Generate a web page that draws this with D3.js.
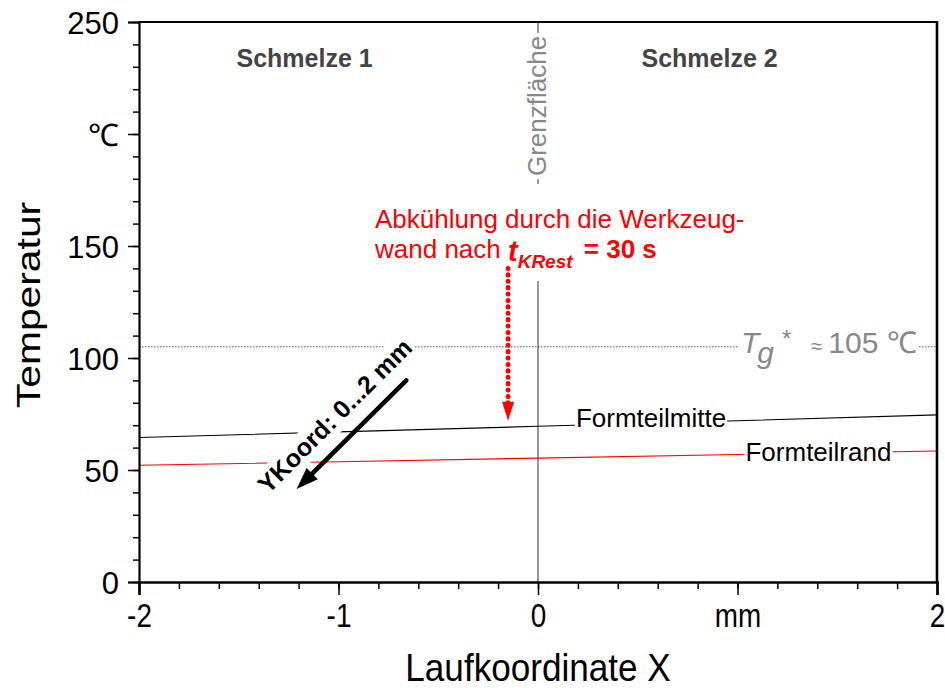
<!DOCTYPE html>
<html>
<head>
<meta charset="utf-8">
<script src="https://cdn.jsdelivr.net/npm/d3@7"></script>
<style>
  body { margin: 0; background: #fff; }
  svg { display: block; }
  text { font-family: "Liberation Sans", Arial, Helvetica, sans-serif; }
</style>
</head>
<body>
<svg id="chart" width="945" height="688"></svg>
<script>
// Axis ranges and tick labels
const xDomain = [-2, 2];
const yDomain = [0, 250];
const xTickValues = [-2, -1, 0, 1, 2];
const xTickLabels = ["-2", "-1", "0", "mm", "2"];
const yTickValues = [0, 50, 100, 150, 200, 250];
const yTickLabels = ["0", "50", "100", "150", "℃", "250"];

// Temperature profiles along the flow coordinate X (mm → °C)
const positions = [-2, -1, 0, 1, 2];
const formteilmitte = [64.5, 67.0, 69.5, 72.0, 74.6];
const formteilrand = [52.1, 53.7, 55.3, 56.9, 58.5];

// Reference temperature and interface position
const tgValue = 105;
const interfaceX = 0;
const interfaceTop = 250;

// Annotation arrows (data units)
const coolingArrow = { x: -0.15, from: 140, to: 72 };
const yCoordArrow = { x1: -0.66, y1: 90, x2: -1.21, y2: 41.5 };

const svg = d3.select("#chart");
const margin = { left: 139, right: 8, top: 22, bottom: 106 };
const W = 945, H = 688;

const x = d3.scaleLinear().domain(xDomain).range([margin.left, W - margin.right]);
const y = d3.scaleLinear().domain(yDomain).range([H - margin.bottom, margin.top]);

const gPlot = svg.append("g");

// Tg dotted reference line
gPlot.append("line")
  .attr("x1", x(xDomain[0])).attr("x2", x(xDomain[1]))
  .attr("y1", y(tgValue)).attr("y2", y(tgValue))
  .attr("stroke", "#555").attr("stroke-width", 1)
  .attr("stroke-dasharray", "1.5,1.5");

// Interface line
gPlot.append("line")
  .attr("x1", x(interfaceX)).attr("x2", x(interfaceX))
  .attr("y1", y(interfaceTop)).attr("y2", y(0))
  .attr("stroke", "#333").attr("stroke-width", 1);

// Temperature curves
const line = d3.line().x((d, i) => x(positions[i])).y(d => y(d));
gPlot.append("path").datum(formteilmitte)
  .attr("d", line).attr("fill", "none")
  .attr("stroke", "#000").attr("stroke-width", 1.1);
gPlot.append("path").datum(formteilrand)
  .attr("d", line).attr("fill", "none")
  .attr("stroke", "#ff0000").attr("stroke-width", 1.1);

// Helper: white box behind a text element
function backdrop(parent, textSel, pad) {
  const b = textSel.node().getBBox();
  const p = Object.assign({ l: 2, r: 2, t: 2, b: 2 }, pad || {});
  parent.insert("rect", () => textSel.node())
    .attr("x", b.x - p.l).attr("y", b.y - p.t)
    .attr("width", b.width + p.l + p.r).attr("height", b.height + p.t + p.b)
    .attr("fill", "#fff");
}

// Region labels
gPlot.append("text").attr("x", x(-1.17)).attr("y", 67)
  .attr("text-anchor", "middle").attr("font-size", 25).attr("font-weight", "bold")
  .attr("fill", "#444").text("Schmelze 1");
gPlot.append("text").attr("x", x(0.86)).attr("y", 67)
  .attr("text-anchor", "middle").attr("font-size", 25).attr("font-weight", "bold")
  .attr("fill", "#444").text("Schmelze 2");

// Interface label (vertical)
const gIf = gPlot.append("g")
  .attr("transform", `translate(${x(interfaceX) + 8},106) rotate(-90)`);
const tIf = gIf.append("text").attr("text-anchor", "middle")
  .attr("font-size", 26).attr("fill", "#888").text("Grenzfläche");
backdrop(gIf, tIf, { l: 3, r: 3, t: 0, b: 0 });

// Red annotation block
const gAnn = gPlot.append("g");
const tAnn = gAnn.append("text").attr("fill", "#ff0000").attr("font-size", 26);
tAnn.append("tspan").attr("x", 375).attr("y", 228).text("Abkühlung durch die Werkzeug-");
const l2 = tAnn.append("tspan").attr("x", 375).attr("y", 258);
l2.append("tspan").text("wand nach ");
tAnn.append("tspan").attr("font-weight", "bold").attr("font-style", "italic")
  .attr("font-size", 29).attr("dy", 3).text("t");
tAnn.append("tspan").attr("font-weight", "bold").attr("font-style", "italic")
  .attr("font-size", 19).attr("dy", 7).text("KRest");
tAnn.append("tspan").attr("font-weight", "bold")
  .attr("dy", -10).attr("dx", 4).text(" = 30 s");
backdrop(gAnn, tAnn, { l: 2, r: 2, t: 20, b: 9 });

// Cooling arrow (red dotted)
const arrowHeadLen = 19;
gPlot.append("line")
  .attr("x1", x(coolingArrow.x)).attr("x2", x(coolingArrow.x))
  .attr("y1", y(coolingArrow.from)).attr("y2", y(coolingArrow.to) - arrowHeadLen + 2)
  .attr("stroke", "#ff0000").attr("stroke-width", 5)
  .attr("stroke-linecap", "round").attr("stroke-dasharray", "0.1,6.3");
{
  const ax = x(coolingArrow.x), ay = y(coolingArrow.to);
  gPlot.append("path")
    .attr("d", `M${ax},${ay} L${ax - 6},${ay - arrowHeadLen} L${ax + 6},${ay - arrowHeadLen} Z`)
    .attr("fill", "#ff0000");
}

// Tg label
const tTg = gPlot.append("text").attr("x", 741).attr("y", y(tgValue) + 6)
  .attr("fill", "#888").attr("font-size", 30);
tTg.append("tspan").attr("font-style", "italic").text("T");
tTg.append("tspan").attr("font-style", "italic").attr("dy", 10).attr("dx", -2).text("g");
tTg.append("tspan").attr("dy", -16).attr("dx", 8).attr("font-size", 24).text("*");
tTg.append("tspan").attr("dy", 6).attr("dx", 20).attr("font-size", 20).text("≈");
tTg.append("tspan").attr("dx", 6).text("105 ℃");
backdrop(gPlot, tTg, { l: 2, r: 2, t: -6, b: -6 });

// Curve labels
const tMitte = gPlot.append("text").attr("x", x(0.19)).attr("y", 427)
  .attr("font-size", 26).attr("fill", "#000").text("Formteilmitte");
backdrop(gPlot, tMitte, { l: 1, r: 1, t: -4, b: -6 });
const tRand = gPlot.append("text").attr("x", x(1.04)).attr("y", 461)
  .attr("font-size", 26).attr("fill", "#000").text("Formteilrand");
backdrop(gPlot, tRand, { l: 1, r: 1, t: -4, b: -6 });

// Y-coordinate arrow with rotated label
{
  const x1 = x(yCoordArrow.x1), y1 = y(yCoordArrow.y1);
  const x2 = x(yCoordArrow.x2), y2 = y(yCoordArrow.y2);
  const ang = Math.atan2(y2 - y1, x2 - x1);
  const head = 22, hw = 8;
  const bx = x2 - head * Math.cos(ang), by = y2 - head * Math.sin(ang);
  const nx = -Math.sin(ang), ny = Math.cos(ang);

  const gY = gPlot.append("g").attr("transform", "translate(341,422) rotate(-45)");
  const tY = gY.append("text").attr("text-anchor", "middle")
    .attr("font-size", 25).attr("font-weight", "bold").attr("fill", "#000")
    .text("YKoord: 0...2 mm");
  backdrop(gY, tY, { l: 2, r: 2, t: 0, b: 2 });

  gPlot.append("line").attr("x1", x1).attr("y1", y1).attr("x2", bx + 4 * Math.cos(ang)).attr("y2", by + 4 * Math.sin(ang))
    .attr("stroke", "#000").attr("stroke-width", 4.5).attr("stroke-linecap", "round");
  gPlot.append("path")
    .attr("d", `M${x2},${y2} L${bx + nx * hw},${by + ny * hw} L${bx - nx * hw},${by - ny * hw} Z`)
    .attr("fill", "#000");
}

// Axes: minor ticks in their own groups, then major ticks with labels
const axisFont = "'Liberation Sans', Arial, sans-serif";

const gyMinor = svg.append("g").attr("transform", `translate(${margin.left},0)`);
gyMinor.call(d3.axisLeft(y).tickValues(d3.range(0, 251, 10)).tickSize(6).tickFormat(""))
  .call(g => g.select(".domain").remove());
gyMinor.selectAll("line").attr("stroke", "#000").attr("stroke-width", 1.5);

const gy = svg.append("g").attr("transform", `translate(${margin.left},0)`);
gy.call(d3.axisLeft(y).tickValues(yTickValues).tickSize(11).tickPadding(9)
  .tickFormat((d, i) => yTickLabels[i]));
gy.selectAll("line").attr("stroke", "#000").attr("stroke-width", 1.5);
gy.selectAll(".domain").attr("stroke", "#000").attr("stroke-width", 2.2);
gy.selectAll("text").attr("font-size", 31).attr("fill", "#000")
  .attr("font-family", axisFont).attr("dy", "0.36em");

const gxMinor = svg.append("g").attr("transform", `translate(0,${y(0)})`);
gxMinor.call(d3.axisBottom(x).tickValues(d3.range(-2, 2.001, 0.2)).tickSize(7).tickFormat(""))
  .call(g => g.select(".domain").remove());
gxMinor.selectAll("line").attr("stroke", "#000").attr("stroke-width", 1.5);

const gx = svg.append("g").attr("transform", `translate(0,${y(0)})`);
gx.call(d3.axisBottom(x).tickValues(xTickValues).tickSize(13)
  .tickFormat((d, i) => xTickLabels[i]));
gx.selectAll("line").attr("stroke", "#000").attr("stroke-width", 1.5);
gx.selectAll(".domain").attr("stroke", "#000").attr("stroke-width", 2.6);
gx.selectAll(".tick text")
  .attr("font-size", 34).attr("fill", "#000")
  .attr("font-family", axisFont)
  .attr("y", 0).attr("dy", 0)
  .attr("transform", "translate(0,45) scale(0.82,1)");

// Frame (top and right)
svg.append("line").attr("x1", margin.left).attr("x2", W - margin.right)
  .attr("y1", margin.top).attr("y2", margin.top)
  .attr("stroke", "#000").attr("stroke-width", 2.2);
svg.append("line").attr("x1", W - margin.right).attr("x2", W - margin.right)
  .attr("y1", margin.top - 1).attr("y2", y(0) + 1)
  .attr("stroke", "#000").attr("stroke-width", 2.6);

// Axis titles
svg.append("text")
  .attr("transform", `translate(${x(0)},681) scale(0.9,1)`)
  .attr("text-anchor", "middle").attr("font-size", 39).attr("fill", "#000")
  .text("Laufkoordinate X");
svg.append("text")
  .attr("transform", `translate(40,305) rotate(-90) scale(1.2,1)`)
  .attr("text-anchor", "middle").attr("font-size", 34).attr("fill", "#000")
  .text("Temperatur");
</script>
</body>
</html>
